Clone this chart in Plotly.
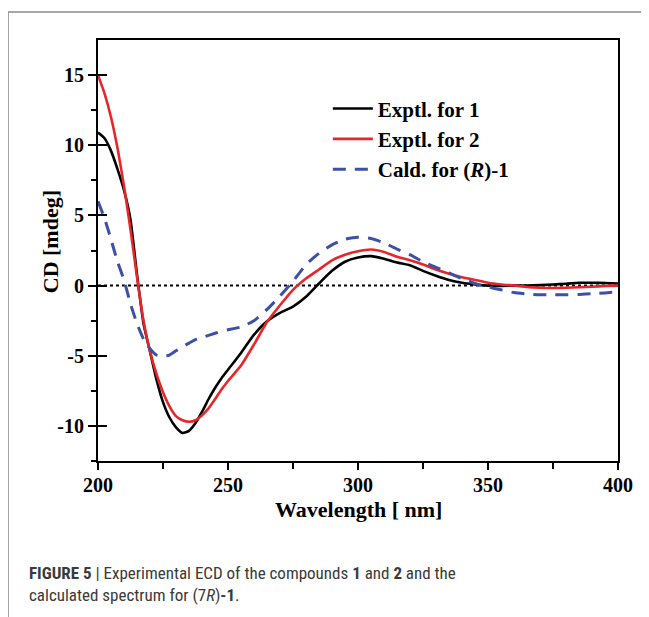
import plotly.graph_objects as go

wavelength = [200, 202.5, 205, 207.5, 210, 212.5, 215, 217.5, 220, 222.5, 225, 227.5,
              230, 232.5, 235, 237.5, 240, 242.5, 245, 247.5, 250,
              255, 260, 265, 270, 275, 280, 285, 290, 295, 300, 305, 310, 315, 320,
              325, 330, 335, 340, 345, 350, 355, 360, 365, 370, 375, 380, 385, 390,
              395, 400]

exptl_1 = [10.9, 10.5, 9.6, 8.3, 6.8, 4.7, 0.8, -2.7, -4.7, -6.7, -8.3, -9.4,
           -10.1, -10.5, -10.35, -9.8, -9.0, -8.1, -7.3, -6.6, -6.0,
           -4.8, -3.5, -2.55, -1.95, -1.5, -0.8, 0.15, 1.05, 1.7, 2.0, 2.1, 1.92,
           1.65, 1.45, 1.05, 0.7, 0.4, 0.2, 0.08, 0.0, -0.02, 0.0, 0.0, 0.03, 0.08,
           0.13, 0.2, 0.2, 0.18, 0.15]

exptl_2 = [15.0, 13.7, 12.0, 9.8, 7.1, 4.0, 0.6, -2.5, -4.7, -6.3, -7.6, -8.6,
           -9.3, -9.6, -9.7, -9.6, -9.25, -8.75, -8.1, -7.4, -6.8,
           -5.7, -4.2, -2.6, -1.4, -0.3, 0.5, 1.15, 1.8, 2.2, 2.45, 2.57, 2.4,
           2.05, 1.8, 1.5, 1.15, 0.85, 0.6, 0.4, 0.2, 0.08, 0.0, -0.1, -0.15, -0.17,
           -0.15, -0.12, -0.08, -0.03, 0.0]

cald_r1 = [6.0, 4.8, 3.3, 1.7, 0.4, -1.3, -2.7, -3.8, -4.5, -4.95, -5.05, -4.95,
           -4.65, -4.35, -4.1, -3.85, -3.7, -3.55, -3.4, -3.25, -3.15,
           -2.95, -2.5, -1.7, -0.75, 0.3, 1.5, 2.3, 2.9, 3.3, 3.45, 3.35, 3.05,
           2.6, 2.2, 1.7, 1.3, 0.9, 0.5, 0.15, -0.1, -0.3, -0.5, -0.6, -0.65, -0.65,
           -0.65, -0.63, -0.58, -0.52, -0.45]

series_names = ["<b>Exptl. for 1</b>", "<b>Exptl. for 2</b>", "<b>Cald. for (<i>R</i>)-1</b>"]

x_ticks = [200, 250, 300, 350, 400]
x_ticktext = ["200", "250", "300", "350", "400"]
y_ticks = [-10, -5, 0, 5, 10, 15]
y_ticktext = ["-10", "-5", "0", "5", "10", "15"]

SERIF = "Liberation Serif"
fig = go.Figure()

fig.add_trace(go.Scatter(x=wavelength, y=exptl_1, mode="lines", name=series_names[0],
                         line=dict(color="black", width=2.6, shape="spline", smoothing=0.5)))
fig.add_trace(go.Scatter(x=wavelength, y=exptl_2, mode="lines", name=series_names[1],
                         line=dict(color="#e8262a", width=2.6, shape="spline", smoothing=0.5)))
fig.add_trace(go.Scatter(x=wavelength, y=cald_r1, mode="lines", name=series_names[2],
                         line=dict(color="#3c50a8", width=3, dash="13px,9px", shape="spline", smoothing=0.5)))
# dummy trace so the overlay axis (inner half of major y ticks) is drawn
fig.add_trace(go.Scatter(x=[None], y=[None], yaxis="y2", showlegend=False, hoverinfo="skip"))

fig.add_hline(y=0, line=dict(color="black", width=2, dash="dot"), layer="below")

tickfont = dict(family=SERIF, size=20, color="black", weight="bold")
titlefont = dict(family=SERIF, size=22, color="black", weight="bold")

fig.update_layout(
    width=641, height=609,
    margin=dict(l=90, r=31, t=32, b=156),
    paper_bgcolor="white", plot_bgcolor="white",
    showlegend=True,
    legend=dict(x=0.442, y=0.885, xanchor="left", yanchor="top",
                bgcolor="rgba(0,0,0,0)", font=dict(family=SERIF, size=21, color="black"),
                itemwidth=40, tracegroupgap=0),
    xaxis=dict(range=[200, 400], tickvals=x_ticks, ticktext=x_ticktext, ticks="outside", ticklen=7,
               tickwidth=2, tickcolor="black", showline=True, linewidth=2, linecolor="black",
               mirror=True, showgrid=False, zeroline=False, tickfont=tickfont, ticklabelstandoff=-2,
               minor=dict(tickvals=[225, 275, 325, 375], ticks="outside", ticklen=6, tickwidth=2,
                          tickcolor="black", showgrid=False)),
    yaxis=dict(range=[-12.5, 17.5], tickvals=y_ticks, ticktext=y_ticktext, ticks="outside", ticklen=8,
               tickwidth=2, tickcolor="black", showline=True, linewidth=2, linecolor="black",
               mirror=True, showgrid=False, zeroline=False, tickfont=tickfont,
               minor=dict(tickvals=[-12.5, -7.5, -2.5, 2.5, 7.5, 12.5], ticks="outside", ticklen=5,
                          tickwidth=2, tickcolor="black", showgrid=False)),
    yaxis2=dict(range=[-12.5, 17.5], overlaying="y", anchor="x", side="left",
                tickvals=y_ticks, ticks="inside", ticklen=9, tickwidth=2, tickcolor="black",
                showticklabels=False, showline=False, showgrid=False, zeroline=False),
)

# axis titles
fig.add_annotation(xref="paper", yref="paper", x=0.5, y=-0.116, xanchor="center", yanchor="middle",
                   showarrow=False, text="Wavelength [ nm]", font=titlefont)
fig.add_annotation(xref="paper", yref="paper", x=-0.092, y=0.52, xanchor="center", yanchor="middle",
                   showarrow=False, textangle=-90, text="CD [mdeg]", font=titlefont)

# figure frame (gray border, top and left)
fig.add_shape(type="line", xref="paper", yref="paper", x0=-0.173, x1=1.07, y0=1.0665, y1=1.0665,
              line=dict(color="#8a8a8a", width=1.5))
fig.add_shape(type="line", xref="paper", yref="paper", x0=-0.173, x1=-0.173, y0=1.0665, y1=-0.4,
              line=dict(color="#8a8a8a", width=1.5))

CAP = "Roboto Condensed, Liberation Sans Narrow, Roboto"
fig.add_annotation(xref="paper", yref="paper", x=-0.1365, y=-0.266, xanchor="left", yanchor="middle",
                   showarrow=False, align="left",
                   text="<b>FIGURE 5</b> | Experimental ECD of the compounds <b>1</b> and <b>2</b> and the",
                   font=dict(family=CAP, size=17, color="#3a3a3a"))
fig.add_annotation(xref="paper", yref="paper", x=-0.1365, y=-0.318, xanchor="left", yanchor="middle",
                   showarrow=False, align="left",
                   text="calculated spectrum for (7<i>R</i>)<b>-1</b>.",
                   font=dict(family=CAP, size=17, color="#3a3a3a"))

fig.write_html("out.html")
